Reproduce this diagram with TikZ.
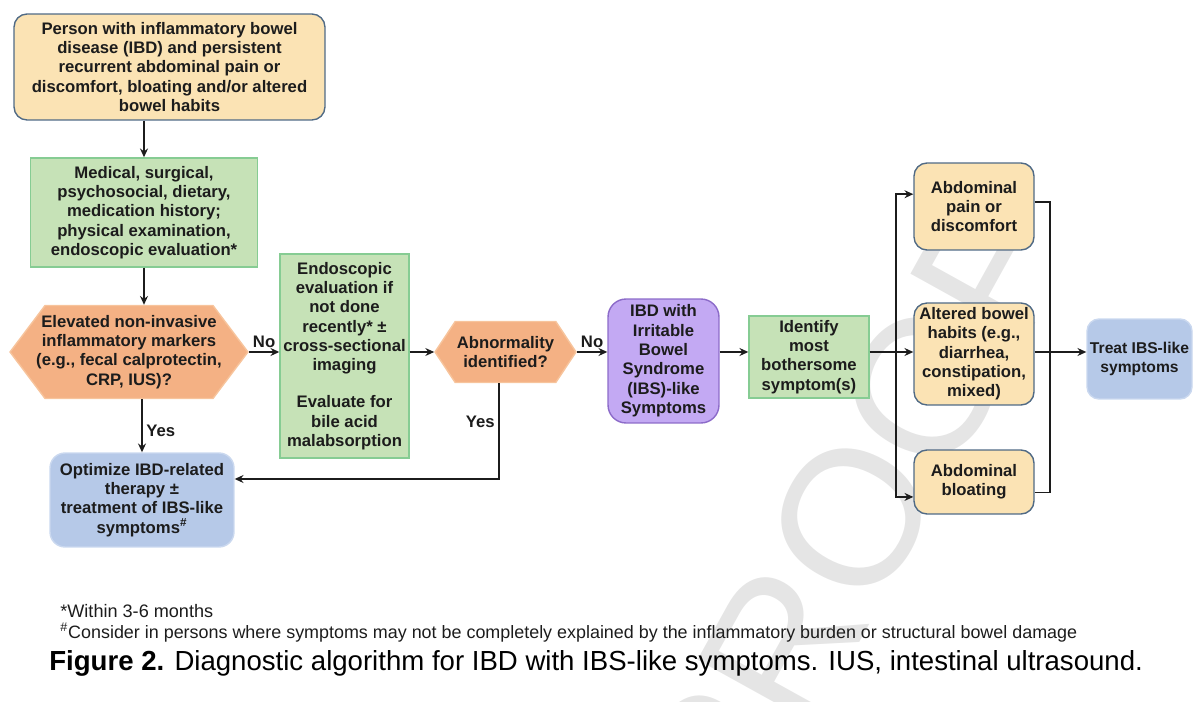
\documentclass[tikz,border=0pt]{standalone}
\usepackage{fontspec}
\setmainfont{Liberation Sans}
\usetikzlibrary{shapes.symbols, positioning, arrows.meta, calc}

\definecolor{tanfill}{HTML}{FBE3B4}
\definecolor{tanline}{HTML}{506A85}
\definecolor{greenfill}{HTML}{C6E2B7}
\definecolor{greenline}{HTML}{86CC93}
\definecolor{orangefill}{HTML}{F4B184}
\definecolor{orangeline}{HTML}{F7C49C}
\definecolor{bluefill}{HTML}{B6C9E8}
\definecolor{blueline}{HTML}{CAD8EF}
\definecolor{purplefill}{HTML}{C3A9F3}
\definecolor{purpleline}{HTML}{8C6BC9}
\definecolor{inkcol}{HTML}{1C1C1C}

\tikzset{
  boxtext/.style={align=center, text=inkcol, font=\fontsize{9.5}{11}\selectfont\bfseries, inner sep=1pt},
  tanbox/.style={boxtext, rectangle, rounded corners=0.26cm, draw=tanline, fill=tanfill, line width=0.8pt},
  greenbox/.style={boxtext, rectangle, draw=greenline, fill=greenfill, line width=0.8pt},
  bluebox/.style={boxtext, rectangle, rounded corners=0.3cm, draw=blueline, fill=bluefill, line width=0.8pt},
  purplebox/.style={boxtext, rectangle, rounded corners=0.36cm, draw=purpleline, fill=purplefill, line width=0.8pt},
  hexbox/.style={signal, signal to=west and east, draw=orangeline, fill=orangefill, line width=0.8pt, inner sep=0pt},
  arrow/.style={line width=0.9pt, draw=inkcol, -{Stealth[length=5pt, width=4.5pt]}},
  link/.style={line width=0.9pt, draw=inkcol},
  answer/.style={font=\fontsize{9.5}{11}\selectfont\bfseries, text=inkcol, inner sep=2pt}
}

\begin{document}
\begin{tikzpicture}[x=0.02cm, y=-0.02cm]
    \useasboundingbox (0,0) rectangle (1200,702);

    % Watermark
    \node[rotate=61, text=black!10, font=\fontsize{110}{110}\selectfont] (proof) at (852,518) {PROOF};

    % ==========================================
    % 1. Left column
    % ==========================================
    \node[tanbox, minimum width=6.22cm, minimum height=2.12cm] (person) at (169.5,67)
        {Person with inflammatory bowel\\ disease (IBD) and persistent\\ recurrent abdominal pain or\\ discomfort, bloating and/or altered\\ bowel habits};
    \node[greenbox, minimum width=4.54cm, minimum height=2.18cm] (history) at (144,212.5)
        {Medical, surgical,\\ psychosocial, dietary,\\ medication history;\\ physical examination,\\ endoscopic evaluation*};
    \node[hexbox, signal pointer angle=106, minimum width=4.76cm, minimum height=1.86cm,
          label={[boxtext]center:Elevated non-invasive\\ inflammatory markers\\ (e.g., fecal calprotectin,\\ CRP, IUS)?}] (markers) at (129,352) {};
    \node[bluebox, minimum width=3.68cm, minimum height=1.88cm] (optimize) at (142,500)
        {Optimize IBD-related\\ therapy ±\\ treatment of IBS-like\\ symptoms\textsuperscript{\#}};

    % ==========================================
    % 2. Middle row
    % ==========================================
    \node[greenbox, minimum width=2.58cm, minimum height=4.08cm] (endo) at (344.5,356)
        {Endoscopic\\ evaluation if\\ not done\\ recently* ±\\ cross-sectional\\ imaging\\[10pt] Evaluate for\\ bile acid\\ malabsorption};
    \node[hexbox, signal pointer angle=113, minimum width=2.82cm, minimum height=1.22cm,
          label={[boxtext]center:Abnormality\\ identified?}] (abnormal) at (505.5,352) {};
    \node[purplebox, minimum width=2.22cm, minimum height=2.48cm] (ibs) at (663.5,361)
        {IBD with\\ Irritable\\ Bowel\\ Syndrome\\ (IBS)-like\\ Symptoms};
    \node[greenbox, minimum width=2.40cm, minimum height=1.64cm] (identify) at (809,357)
        {Identify\\ most\\ bothersome\\ symptom(s)};

    % ==========================================
    % 3. Symptom boxes
    % ==========================================
    \node[tanbox, minimum width=2.40cm, minimum height=1.74cm] (pain) at (974,206.5)
        {Abdominal\\ pain or\\ discomfort};
    \node[tanbox, minimum width=2.40cm, minimum height=2.04cm] (habits) at (974,354)
        {Altered bowel\\ habits (e.g.,\\ diarrhea,\\ constipation,\\ mixed)};
    \node[tanbox, minimum width=2.40cm, minimum height=1.28cm] (bloating) at (974,482)
        {Abdominal\\ bloating};
    \node[bluebox, rounded corners=0.24cm, font=\fontsize{8.9}{11}\selectfont\bfseries,
          minimum width=2.10cm, minimum height=1.60cm] (treat) at (1139.5,359)
        {Treat IBS-like\\ symptoms};

    % ==========================================
    % 4. Connectors
    % ==========================================
    \draw[arrow] (history.north |- person.south) -- (history.north);
    \draw[arrow] (history.south) -- (history.south |- markers.north);
    \draw[arrow] (markers.south -| optimize.north) -- node[answer, right, pos=0.6] {Yes} (optimize.north);
    \draw[arrow] (markers.east) -- node[answer, above] {No} (markers.east -| endo.west);
    \draw[arrow] (endo.east |- abnormal.west) -- (abnormal.west);
    \draw[arrow] (abnormal.east) -- node[answer, above] {No} (abnormal.east -| ibs.west);
    \coordinate (yesturn) at (499,479);
    \draw[arrow] (abnormal.south -| yesturn) -- node[answer, left, pos=0.4] {Yes} (yesturn) -- (yesturn -| optimize.east);
    \draw[arrow] (ibs.east |- abnormal.east) -- (identify.west |- abnormal.east);

    % split to the three symptoms
    \coordinate (split) at (896,352);
    \draw[link] (identify.east |- split) -- (split);
    \draw[arrow] (split) |- ([yshift=7pt]pain.west);
    \draw[arrow] (split) -- (split -| habits.west);
    \draw[arrow] (split) |- ([yshift=-8.5pt]bloating.west);

    % merge to treatment
    \coordinate (merge) at (1050,352);
    \draw[link] ([yshift=2.5pt]pain.east) -| (merge);
    \draw[link] ([yshift=-6pt]bloating.east) -| (merge);
    \draw[arrow] (habits.east |- merge) -- (treat.west |- merge);

    % ==========================================
    % 5. Notes and caption
    % ==========================================
    \node[anchor=base west, inner sep=0pt, font=\fontsize{10.3}{12}\selectfont, text=inkcol] (note1) at (60,617)
        {*Within 3-6 months};
    \node[anchor=base west, inner sep=0pt, font=\fontsize{10.2}{12}\selectfont, text=inkcol] (note2) at (60,638)
        {\textsuperscript{\#}Consider in persons where symptoms may not be completely explained by the inflammatory burden or structural bowel damage};
    \node[anchor=base west, inner sep=0pt, font=\fontsize{15.7}{18}\selectfont, text=black] (caption) at (49,670)
        {\textbf{Figure 2.} Diagnostic algorithm for IBD with IBS-like symptoms. IUS, intestinal ultrasound.};
\end{tikzpicture}
\end{document}
